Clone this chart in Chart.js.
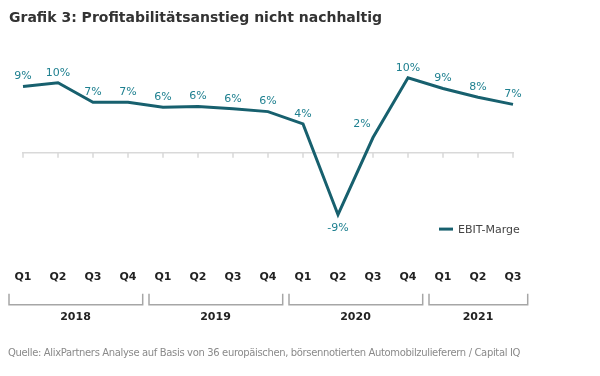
<!DOCTYPE html>
<html>
<head>
<meta charset="utf-8">
<script src="https://cdn.jsdelivr.net/npm/chart.js@4"></script>
<style>
  body { margin: 0; background: #fff; }
  #wrap { position: relative; width: 600px; height: 376px; overflow: hidden; }
  #title { position: absolute; left: 9px; top: 10px; font: bold 14px "DejaVu Sans", sans-serif; line-height: 14px; color: #333; white-space: nowrap; }
  #source { position: absolute; left: 8px; top: 348px; font: 10px "DejaVu Sans", sans-serif; line-height: 10px; letter-spacing: -0.35px; color: #8a8a8a; white-space: nowrap; }
  canvas { position: absolute; left: 0; top: 0; }
</style>
</head>
<body>
<div id="wrap">
  <canvas id="chart" width="600" height="376"></canvas>
  <div id="title">Grafik 3: Profitabilitätsanstieg nicht nachhaltig</div>
  <div id="source">Quelle: AlixPartners Analyse auf Basis von 36 europäischen, börsennotierten Automobilzulieferern / Capital IQ</div>
</div>
<script>
"use strict";

// data (EBIT margin in %)
const quarters = ["Q1", "Q2", "Q3", "Q4", "Q1", "Q2", "Q3", "Q4", "Q1", "Q2", "Q3", "Q4", "Q1", "Q2", "Q3"];
const ebitMarge = [9.2, 9.7, 7.0, 7.0, 6.3, 6.4, 6.1, 5.7, 4.0, -8.6, 2.1, 10.4, 8.9, 7.7, 6.7];
const years = ["2018", "2019", "2020", "2021"];
const quartersPerYear = [4, 4, 4, 3];
const seriesName = "EBIT-Marge";

const lineColor = "#17606e";
const labelColor = "#1f8090";
const font = "DejaVu Sans";

// zero line with little ticks, point labels, year brackets and the legend
const extras = {
  id: "extras",
  beforeDatasetsDraw(chart) {
    const ctx = chart.ctx;
    const x = chart.scales.x;
    const y = chart.scales.y;
    const y0 = y.getPixelForValue(0);
    ctx.save();
    ctx.strokeStyle = "#d9d9d9";
    ctx.lineWidth = 1.5;
    ctx.beginPath();
    ctx.moveTo(x.getPixelForValue(0) - 1, y0);
    ctx.lineTo(x.getPixelForValue(quarters.length - 1) + 1, y0);
    for (let i = 0; i < quarters.length; i++) {
      ctx.moveTo(x.getPixelForValue(i), y0);
      ctx.lineTo(x.getPixelForValue(i), y0 + 5);
    }
    ctx.stroke();
    ctx.restore();
  },
  afterDraw(chart) {
    const ctx = chart.ctx;
    const x = chart.scales.x;
    const y = chart.scales.y;
    const meta = chart.getDatasetMeta(0);
    ctx.save();

    // value labels
    ctx.font = "11px " + font;
    ctx.fillStyle = labelColor;
    ctx.textAlign = "center";
    ctx.textBaseline = "middle";
    for (let i = 0; i < ebitMarge.length; i++) {
      const p = meta.data[i];
      const v = ebitMarge[i];
      const txt = Math.round(v) + "%";
      if (v < 0) {
        ctx.fillText(txt, p.x, p.y + 13);
      } else if (ebitMarge[i + 1] - v > 5) {
        // steep climb: put the label left of the line
        ctx.fillText(txt, p.x - 11, p.y - 13);
      } else {
        ctx.fillText(txt, p.x, p.y - 10);
      }
    }

    // year brackets under the quarter labels
    const step = x.getPixelForValue(1) - x.getPixelForValue(0);
    const top = chart.chartArea.bottom + 33;
    const bot = top + 11;
    ctx.strokeStyle = "#a6a6a6";
    ctx.lineWidth = 1.5;
    ctx.fillStyle = "#222";
    ctx.font = "bold 11px " + font;
    let start = 0;
    for (let k = 0; k < years.length; k++) {
      const end = start + quartersPerYear[k] - 1;
      const xa = x.getPixelForValue(start) - step * 0.4;
      const xb = x.getPixelForValue(end) + step * 0.42;
      ctx.beginPath();
      ctx.moveTo(xa, top);
      ctx.lineTo(xa, bot);
      ctx.lineTo(xb, bot);
      ctx.lineTo(xb, top);
      ctx.stroke();
      ctx.fillText(years[k], (x.getPixelForValue(start) + x.getPixelForValue(end)) / 2, bot + 12);
      start = end + 1;
    }

    // legend
    const ly = y.getPixelForValue(-10.6);
    const lx = x.getPixelForValue(12);
    ctx.strokeStyle = lineColor;
    ctx.lineWidth = 3;
    ctx.beginPath();
    ctx.moveTo(lx - 4, ly);
    ctx.lineTo(lx + 10, ly);
    ctx.stroke();
    ctx.fillStyle = "#444";
    ctx.font = "11px " + font;
    ctx.textAlign = "left";
    ctx.fillText(seriesName, lx + 15, ly + 1);
    ctx.restore();
  }
};

new Chart(document.getElementById("chart"), {
  type: "line",
  data: {
    labels: quarters,
    datasets: [{
      label: seriesName,
      data: ebitMarge,
      borderColor: lineColor,
      borderWidth: 3,
      pointRadius: 0,
      tension: 0,
      fill: false
    }]
  },
  options: {
    responsive: false,
    animation: false,
    layout: { padding: { left: 23, right: 87, top: 59, bottom: 90 } },
    scales: {
      x: {
        grid: { display: false },
        border: { display: false },
        ticks: { color: "#222", font: { family: font, size: 11, weight: "bold" }, padding: 2, maxRotation: 0, autoSkip: false }
      },
      y: { display: false, min: -15, max: 13 }
    },
    plugins: {
      legend: { display: false },
      tooltip: { enabled: false }
    }
  },
  plugins: [extras]
});
</script>
</body>
</html>
